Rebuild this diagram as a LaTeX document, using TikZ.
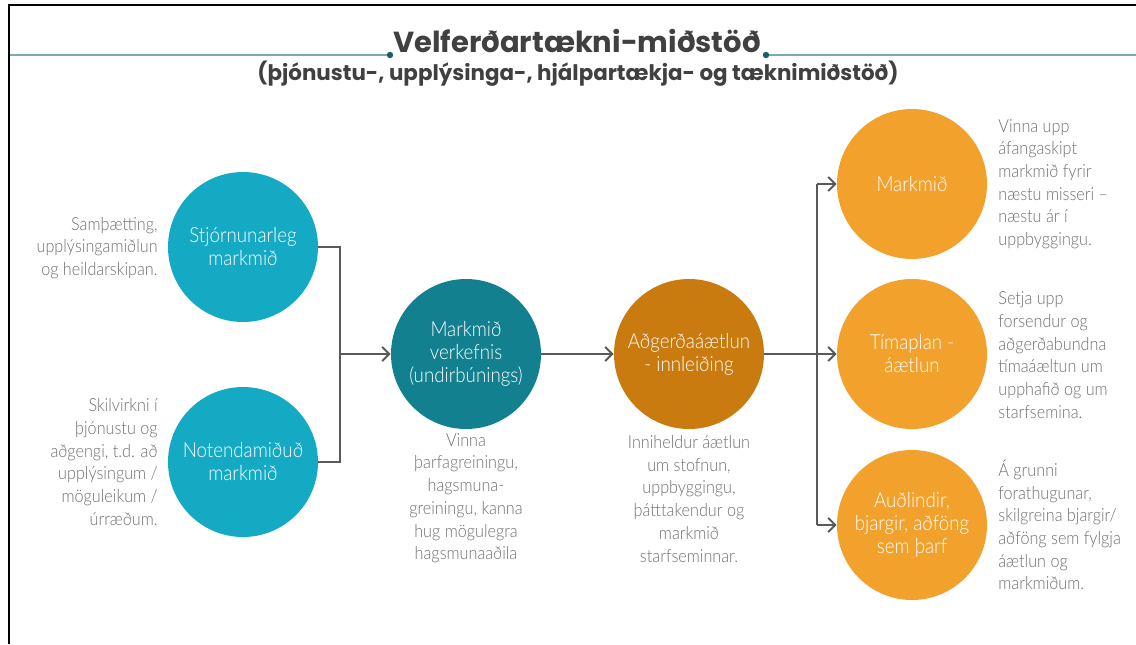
\documentclass[tikz,border=0pt]{standalone}
\usepackage{fontspec}
\setmainfont{Lato Light}[FakeStretch=0.9]
\newfontfamily\titlefont{Poppins}
\usetikzlibrary{arrows.meta}
\usepackage{xcolor}

\definecolor{frameline}{HTML}{7FA9AF}
\definecolor{dotteal}{HTML}{1B5E6B}
\definecolor{lightteal}{HTML}{14AAC4}
\definecolor{darkteal}{HTML}{12808F}
\definecolor{darkorange}{HTML}{CA7B10}
\definecolor{goldorange}{HTML}{F2A22C}
\definecolor{desctext}{HTML}{6F6F6F}
\definecolor{titletext}{HTML}{404040}
\definecolor{linkgray}{HTML}{595959}

\begin{document}
\begin{tikzpicture}[x=0.5pt, y=-0.5pt,
		bubble/.style={circle, minimum size=75pt, inner sep=0pt, align=center, text=white,
			font=\fontsize{10.4}{11.5}\selectfont},
		desc/.style={inner sep=0pt, text=desctext, font=\fontsize{9}{11.35}\selectfont},
		link/.style={draw=linkgray, line width=1pt},
		linkarrow/.style={link, -{Straight Barb[length=3.5pt, width=7pt, line width=1pt]}}]
		\useasboundingbox (0,0) rectangle (1136,644);
		% frame and title
		\draw[line width=1.2pt] (9,644) -- (9,5) -- (1136,5);
		\coordinate (tl) at (390,55); \coordinate (tr) at (766,55);
		\draw[frameline, line width=1pt] (10,55) -- (tl);
		\draw[frameline, line width=1pt] (tr) -- (1136,55);
		\fill[dotteal] (tl) circle (1.6pt) (tr) circle (1.6pt);
		\node[anchor=base, text=titletext, font=\titlefont\bfseries\fontsize{14.5}{16}\selectfont] (title) at (577,52) {Velferðartækni-miðstöð};
		\node[anchor=base, text=titletext, font=\titlefont\bfseries\fontsize{10.7}{12}\selectfont] (subtitle) at (578,80) {(þjónustu-, upplýsinga-, hjálpartækja- og tæknimiðstöð)};

		% left column
		\node[bubble, fill=lightteal] (strat) at (243,247) {Stjórnunarleg\\markmið};
		\node[bubble, fill=lightteal] (user) at (243,462) {Notendamiðuð\\markmið};
		\node[desc, anchor=east, align=right] (stratdesc) at (158,248) {Samþætting,\\upplýsingamiðlun\\og heildarskipan.};
		\node[desc, anchor=east, align=right] (userdesc) at (158,462) {Skilvirkni í\\þjónustu og\\aðgengi, t.d. að\\upplýsingum /\\möguleikum /\\úrræðum.};

		% middle
		\node[bubble, fill=darkteal] (proj) at (466,354) {Markmið\\verkefnis\\(undirbúnings)};
		\node[bubble, fill=darkorange] (plan) at (689,354) {Aðgerðaáætlun\\- innleiðing};
		\node[desc, anchor=north, align=center] (projdesc) at (466,433) {Vinna\\þarfagreiningu,\\hagsmuna-\\greiningu, kanna\\hug mögulegra\\hagsmunaaðila};
		\node[desc, anchor=north, align=center] (plandesc) at (689,435) {Inniheldur áætlun\\um stofnun,\\uppbyggingu,\\þátttakendur og\\markmið\\starfseminnar.};

		% right column
		\node[bubble, fill=goldorange] (goal) at (912,184) {Markmið};
		\node[bubble, fill=goldorange] (time) at (912,354) {Tímaplan -\\áætlun};
		\node[bubble, fill=goldorange] (res) at (912,525) {Auðlindir,\\bjargir, aðföng\\sem þarf};
		\node[desc, anchor=west, align=left] (goaldesc) at (998,184) {Vinna upp\\áfangaskipt\\markmið fyrir\\næstu misseri –\\næstu ár í\\uppbyggingu.};
		\node[desc, anchor=west, align=left] (timedesc) at (998,355) {Setja upp\\forsendur og\\aðgerðabundna\\tímaáæltun um\\upphafið og um\\starfsemina.};
		\node[desc, anchor=west, align=left] (resdesc) at (998,525) {Á grunni\\forathugunar,\\skilgreina bjargir/\\aðföng sem fylgja\\áætlun og\\markmiðum.};

		% connectors
		\coordinate (joinl) at (340,354);
		\coordinate (joinr) at (817,354);
		\draw[link] (strat) -| (joinl) |- (user);
		\draw[linkarrow] (joinl) -- (proj);
		\draw[linkarrow] (proj) -- (plan);
		\draw[link] (plan) -- (joinr);
		\draw[link] (joinr |- goal) -- (joinr |- res);
		\foreach \n in {goal, time, res}
			\draw[linkarrow] (joinr |- \n) -- (\n);
	\end{tikzpicture}
\end{document}
